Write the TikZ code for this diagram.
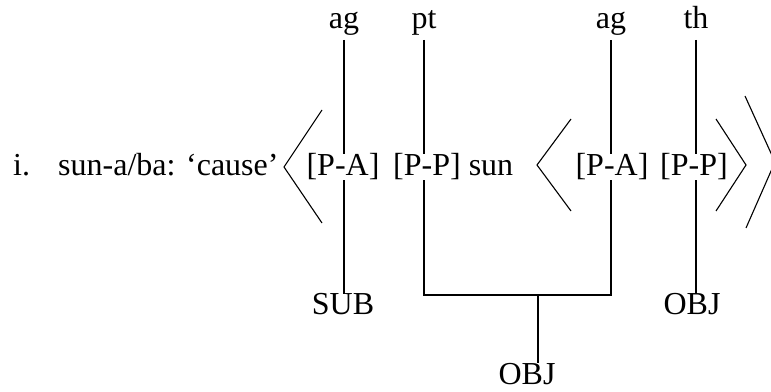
\documentclass[tikz,border=0pt]{standalone}
\usepackage{fontspec}
\setmainfont{Liberation Serif}
\usetikzlibrary{arrows}

\begin{document}
\begin{tikzpicture}[x=1pt,y=1pt,
  every node/.style={font=\fontsize{32}{38}\selectfont},
  role/.style={anchor=base, inner sep=0pt, outer sep=4pt, text depth=7pt},
  gf/.style={anchor=base, inner sep=0pt, outer sep=0pt},
  slot/.style={anchor=base, inner sep=0pt, fill=white},
  link/.style={black, line width=1.1pt}]
\clip (0,0) rectangle (771,391);

% theta roles on top
\node[role] (ag1) at (344,362) {ag};
\node[role] (pt) at (424,362) {pt};
\node[role] (ag2) at (611,362) {ag};
\node[role] (th) at (696,362) {th};

% grammatical functions below
\node[gf] (sub) at (343,76) {SUB};
\node[gf] (obj1) at (692,76) {OBJ};
\node[gf] (obj2) at (527,7) {OBJ};
\coordinate (join) at (538,96);

\draw[link] (ag1.south) -- (ag1.south |- sub.north) ; % ag -> SUB
\draw[link] (th.south) -- (th.south |- obj1.north) ; % th -> OBJ
\draw[link] (pt.south) |- (ag2.south |- join) -- (ag2.south) ; % pt + ag bracket
\draw[link] (join) -- (join |- obj2.north) ; % shared OBJ

% argument structure line
\node[anchor=base west, inner sep=0pt] (num) at (13,215) {i.};
\node[anchor=base west, inner sep=0pt] (verb) at (58,215) {sun-a/ba: ‘cause’};
\node[slot] (pa1) at (343,215) {[P-A]};
\node[slot, anchor=base west] (pp1) at (393,215) {[P-P] sun};
\node[slot] (pa2) at (612,215) {[P-A]};
\node[slot] (pp2) at (694,215) {[P-P]};

\draw[link] (322,281) -- (284,224) -- (322,168) ; % outer <
\draw[link] (571,272) -- (537,226) -- (571,180) ; % inner <
\draw[link] (716,272) -- (746,226) -- (716,180) ; % inner >
\draw[link] (745,295) -- (775,229) -- (746,163) ; % outer >
\end{tikzpicture}
\end{document}
